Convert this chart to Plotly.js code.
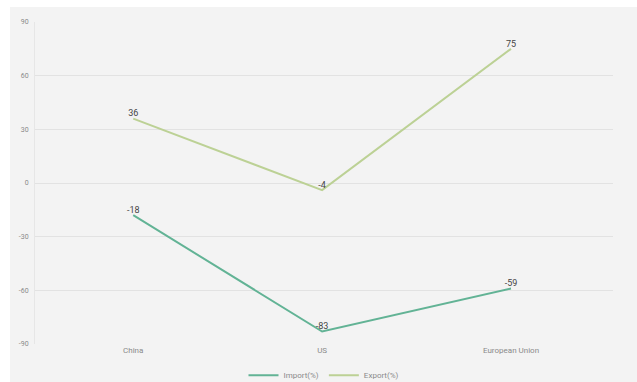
<!DOCTYPE html>
<html>
<head>
<meta charset="utf-8">
<script src="https://cdn.plot.ly/plotly-3.0.1.min.js"></script>
<style>
  html, body { margin: 0; padding: 0; background: #ffffff; }
  #chart { position: absolute; left: 10px; top: 7px; width: 627px; height: 375px; }
</style>
</head>
<body>
<div id="chart"></div>
<script>
// Trade change by partner, percent
const partners = ['China', 'US', 'European Union'];
const importPct = [-18, -83, -59];
const exportPct = [36, -4, 75];
const yTicks = [90, 60, 30, 0, -30, -60, -90];

const labelFont = { family: 'Roboto, Arial, sans-serif', size: 9, color: '#444444' };

const traces = [
  {
    name: 'Import(%)',
    x: partners,
    y: importPct,
    type: 'scatter',
    mode: 'lines+text',
    line: { color: '#62b395', width: 2 },
    text: importPct.map(String),
    textposition: 'top center',
    textfont: labelFont,
    cliponaxis: false
  },
  {
    name: 'Export(%)',
    x: partners,
    y: exportPct,
    type: 'scatter',
    mode: 'lines+text',
    line: { color: '#bcd195', width: 2 },
    text: exportPct.map(String),
    textposition: 'top center',
    textfont: labelFont,
    cliponaxis: false
  }
];

const layout = {
  width: 627,
  height: 375,
  paper_bgcolor: '#f3f3f3',
  plot_bgcolor: '#f3f3f3',
  margin: { l: 25, r: 24, t: 15, b: 38, autoexpand: false },
  font: { family: 'Roboto, Arial, sans-serif', size: 8, color: '#8a8a8a' },
  showlegend: true,
  legend: {
    orientation: 'h',
    x: 0.5, xanchor: 'center',
    y: -0.097, yanchor: 'middle',
    font: { size: 8, color: '#8a8a8a' },
    itemwidth: 30,
    tracegroupgap: 0,
    bgcolor: 'rgba(0,0,0,0)'
  },
  xaxis: {
    type: 'category',
    range: [-0.52, 2.54],
    showgrid: false,
    zeroline: false,
    showline: false,
    ticks: '',
    ticklabelstandoff: 0,
    tickfont: { size: 8, color: '#8a8a8a' },
    fixedrange: true
  },
  yaxis: {
    range: [-90, 90],
    tickvals: yTicks,
    ticktext: yTicks.map(String),
    showgrid: true,
    gridcolor: '#e2e2e2',
    gridwidth: 1,
    zeroline: false,
    showline: true,
    linecolor: '#e6e6e6',
    ticks: '',
    ticklabelstandoff: 4,
    tickfont: { size: 7, color: '#8a8a8a' },
    fixedrange: true
  }
};

Plotly.newPlot('chart', traces, layout, { displayModeBar: false, staticPlot: true });
</script>
</body>
</html>
